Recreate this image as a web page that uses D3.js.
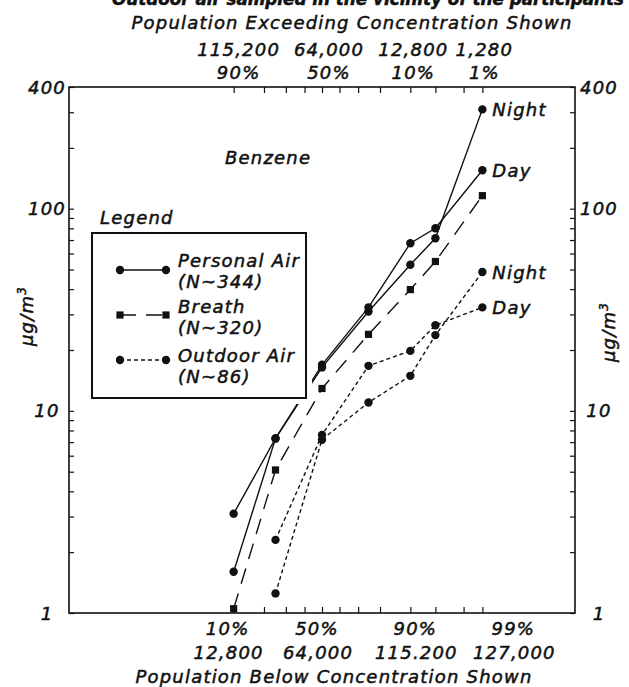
<!DOCTYPE html>
<html>
<head>
<meta charset="utf-8">
<script src="https://cdn.jsdelivr.net/npm/d3@7"></script>
<style>
  body { margin: 0; background: #fff; }
  text {
    font-family: "DejaVu Sans", sans-serif;
    font-style: italic;
    font-size: 18px;
    letter-spacing: 1.2px;
    fill: #111;
    stroke: #111;
    stroke-width: 0.5px;
  }
</style>
</head>
<body>
<svg id="chart" width="629" height="687"></svg>
<script>
// Cumulative percentiles (population below the concentration shown)
const percentiles = [10, 25, 50, 75, 90, 95, 99];
const outdoorPercentiles = [25, 50, 75, 90, 95, 99];

// Benzene concentrations, µg/m³
const personalNight = [1.6, 7.3, 16.4, 31.0, 52.8, 71.4, 310];
const personalDay   = [3.1, 7.3, 16.9, 32.5, 67.5, 80, 155];
const breath        = [1.05, 5.1, 12.9, 23.9, 39.8, 54.8, 116];
const outdoorNight  = [1.25, 7.2, 11.0, 14.9, 23.7, 48.6];
const outdoorDay    = [2.3, 7.6, 16.7, 19.8, 26.5, 32.5];

// Axis ticks and labels
const probTicks = [10, 20, 30, 40, 50, 60, 70, 80, 90, 95, 98, 99];
const bottomPct = ["10%", "50%", "90%", "99%"];
const bottomPop = ["12,800", "64,000", "115.200", "127,000"];
const bottomAt  = [10, 50, 90, 99];
const topPop    = ["115,200", "64,000", "12,800", "1,280"];
const topPct    = ["90%", "50%", "10%", "1%"];
const topAt     = [10, 50, 90, 99];
const yLabels   = [1, 10, 100, 400];

// Inverse of the standard normal CDF (Acklam's rational approximation)
function probit(p) {
  const a = [-3.969683028665376e+01, 2.209460984245205e+02, -2.759285104469687e+02,
             1.383577518672690e+02, -3.066479806614716e+01, 2.506628277459239e+00];
  const b = [-5.447609879822406e+01, 1.615858368580409e+02, -1.556989798598866e+02,
             6.680131188771972e+01, -1.328068155288572e+01];
  const c = [-7.784894002430293e-03, -3.223964580411365e-01, -2.400758277161838e+00,
             -2.549732539343734e+00, 4.374664141464968e+00, 2.938163982698783e+00];
  const d = [7.784695709041462e-03, 3.224671290700398e-01, 2.445134137142996e+00,
             3.754408661907416e+00];
  const pl = 0.02425, ph = 1 - pl;
  let q, r;
  if (p < pl) {
    q = Math.sqrt(-2 * Math.log(p));
    return (((((c[0]*q+c[1])*q+c[2])*q+c[3])*q+c[4])*q+c[5]) / ((((d[0]*q+d[1])*q+d[2])*q+d[3])*q+1);
  }
  if (p <= ph) {
    q = p - 0.5; r = q * q;
    return (((((a[0]*r+a[1])*r+a[2])*r+a[3])*r+a[4])*r+a[5])*q / (((((b[0]*r+b[1])*r+b[2])*r+b[3])*r+b[4])*r+1);
  }
  q = Math.sqrt(-2 * Math.log(1 - p));
  return -(((((c[0]*q+c[1])*q+c[2])*q+c[3])*q+c[4])*q+c[5]) / ((((d[0]*q+d[1])*q+d[2])*q+d[3])*q+1);
}

const L = 69, R = 575, T = 87, B = 613;
const svg = d3.select("#chart");

// Probability x scale: linear in normal quantiles
const zScale = d3.scaleLinear().domain([-3.67, 3.67]).range([L, R]);
const x = pct => zScale(probit(pct / 100));
const y = d3.scaleLog().domain([1, 400]).range([B, T]);

// Note line running above the chart (its upper half lies beyond the page edge)
svg.append("text")
  .attr("x", 112).attr("y", 5)
  .attr("textLength", 512).attr("lengthAdjust", "spacingAndGlyphs")
  .style("font-weight", "bold").style("letter-spacing", "0px").style("font-size", "17px")
  .text("Outdoor air sampled in the vicinity of the participants");

// Ticks (inward), drawn by d3 axes
const zTicks = probTicks.map(p => probit(p / 100));
function styleAxis(g) {
  g.select(".domain").remove();
  g.selectAll(".tick line").attr("stroke", "#111").attr("stroke-width", 1.2);
}
svg.append("g").attr("transform", `translate(0,${B})`)
  .call(d3.axisBottom(zScale).tickValues(zTicks).tickSize(-6).tickFormat(""))
  .call(styleAxis);
svg.append("g").attr("transform", `translate(0,${T})`)
  .call(d3.axisTop(zScale).tickValues(zTicks).tickSize(-6).tickFormat(""))
  .call(styleAxis);

const yTicks = [];
[1, 10, 100].forEach(dec => { for (let k = 1; k <= 9; k++) if (dec * k <= 400) yTicks.push(dec * k); });
svg.append("g").attr("transform", `translate(${L},0)`)
  .call(d3.axisLeft(y).tickValues(yTicks).tickSize(-5).tickFormat(""))
  .call(styleAxis);
svg.append("g").attr("transform", `translate(${R},0)`)
  .call(d3.axisRight(y).tickValues(yTicks).tickSize(-5).tickFormat(""))
  .call(styleAxis);

// Plot frame
svg.append("rect")
  .attr("x", L).attr("y", T).attr("width", R - L).attr("height", B - T)
  .attr("fill", "none").attr("stroke", "#111").attr("stroke-width", 1.6);

// Y labels both sides
yLabels.forEach(v => {
  svg.append("text").attr("x", 47).attr("y", y(v) + 6.5)
    .attr("text-anchor", "middle").text(v);
  svg.append("text").attr("x", 599).attr("y", y(v) + 6.5)
    .attr("text-anchor", "middle").text(v);
});

// Y titles
[[33, 316], [615, 332]].forEach(([cx, cy]) => {
  const t = svg.append("text")
    .attr("transform", `translate(${cx},${cy}) rotate(-90)`)
    .attr("text-anchor", "middle");
  t.append("tspan").text("μg/m");
  t.append("tspan").attr("dy", -7).style("font-size", "12px").text("3");
});

// Bottom labels
const bottomDx = [-6, -5, 5, 31];
bottomAt.forEach((p, i) => {
  svg.append("text").attr("x", x(p) + bottomDx[i]).attr("y", 634.5)
    .attr("text-anchor", "middle").text(bottomPct[i]);
  svg.append("text").attr("x", x(p) + bottomDx[i] + 1).attr("y", 658.5)
    .attr("text-anchor", "middle").text(bottomPop[i]);
});
svg.append("text").attr("x", 334).attr("y", 683)
  .attr("text-anchor", "middle").text("Population Below Concentration Shown");

// Top labels
const topDx = [5, 7, 3, 2];
svg.append("text").attr("x", 352).attr("y", 29)
  .attr("text-anchor", "middle").text("Population Exceeding Concentration Shown");
topAt.forEach((p, i) => {
  svg.append("text").attr("x", x(p) + topDx[i]).attr("y", 56)
    .attr("text-anchor", "middle").text(topPop[i]);
  svg.append("text").attr("x", x(p) + topDx[i]).attr("y", 78.5)
    .attr("text-anchor", "middle").text(topPct[i]);
});

// Series
const lineGen = d3.line().x(d => x(d[0])).y(d => y(d[1]));
const zip = (ps, vs) => ps.map((p, i) => [p, vs[i]]);

const series = [
  { data: zip(percentiles, personalNight), dash: null, marker: "circle", label: "Night" },
  { data: zip(percentiles, personalDay), dash: null, marker: "circle", label: "Day" },
  { data: zip(percentiles, breath), dash: "16,10", marker: "square", label: null },
  { data: zip(outdoorPercentiles, outdoorNight), dash: "4,3", marker: "circle", label: "Night" },
  { data: zip(outdoorPercentiles, outdoorDay), dash: "4,3", marker: "circle", label: "Day" }
];

const linesG = svg.append("g");
series.forEach(s => {
  linesG.append("path")
    .attr("d", lineGen(s.data))
    .attr("fill", "none").attr("stroke", "#111").attr("stroke-width", 1.4)
    .attr("stroke-dasharray", s.dash);
});

// Legend (white backing interrupts the lines near the box)
svg.append("rect").attr("x", 86).attr("y", 227).attr("width", 226).attr("height", 177)
  .attr("fill", "#fff");
svg.append("rect").attr("x", 92).attr("y", 233).attr("width", 214).attr("height", 165)
  .attr("fill", "#fff").attr("stroke", "#111").attr("stroke-width", 2);
svg.append("text").attr("x", 100).attr("y", 223.5).text("Legend");
svg.append("text").attr("x", 225).attr("y", 163.5).text("Benzene");

const legendItems = [
  { name: "Personal Air", n: "(N~344)", dash: null, marker: "circle", ly: 270, ty: 266.5 },
  { name: "Breath", n: "(N~320)", dash: "16,10", marker: "square", ly: 315, ty: 312.5 },
  { name: "Outdoor Air", n: "(N~86)", dash: "4,3", marker: "circle", ly: 360, ty: 361.5 }
];
function drawMarker(g, type, cx, cy) {
  if (type === "circle") {
    g.append("circle").attr("cx", cx).attr("cy", cy).attr("r", 4.2).attr("fill", "#111");
  } else {
    g.append("rect").attr("x", cx - 3.6).attr("y", cy - 3.6).attr("width", 7.2).attr("height", 7.2).attr("fill", "#111");
  }
}
legendItems.forEach(it => {
  svg.append("line").attr("x1", 120).attr("x2", 166).attr("y1", it.ly).attr("y2", it.ly)
    .attr("stroke", "#111").attr("stroke-width", 1.4).attr("stroke-dasharray", it.dash);
  drawMarker(svg, it.marker, 120, it.ly);
  drawMarker(svg, it.marker, 166, it.ly);
  svg.append("text").attr("x", 178).attr("y", it.ty).text(it.name);
  svg.append("text").attr("x", 178).attr("y", it.ty + 21).text(it.n);
});

// Markers and end labels
series.forEach(s => {
  s.data.forEach(d => drawMarker(svg, s.marker, x(d[0]), y(d[1])));
  if (s.label) {
    const last = s.data[s.data.length - 1];
    svg.append("text").attr("x", x(last[0]) + 10).attr("y", y(last[1]) + 6.5).text(s.label);
  }
});
</script>
</body>
</html>
